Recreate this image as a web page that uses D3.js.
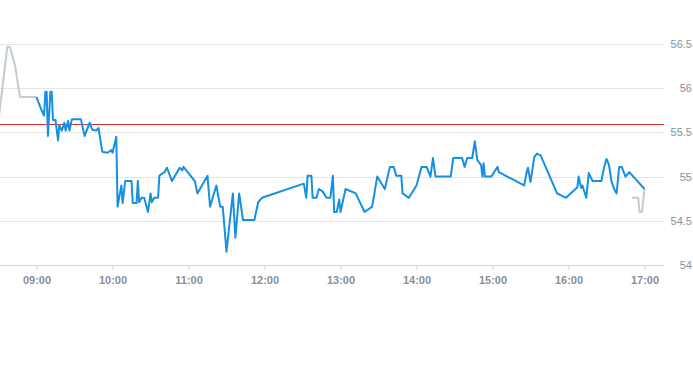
<!DOCTYPE html>
<html>
<head>
<meta charset="utf-8">
<script src="https://cdn.jsdelivr.net/npm/d3@7"></script>
<style>
  body { margin: 0; background: #fff; }
  svg { display: block; font-family: "Liberation Sans", Arial, sans-serif; }
</style>
</head>
<body>
<div id="chart"></div>
<script>
// pre-market (gray)
const preTimes = ["08:30", "08:37", "08:39", "08:43", "08:47", "09:00"];
const preValues = [55.64, 56.47, 56.47, 56.26, 55.90, 55.90];

// regular session (blue)
const sessionTimes = [
  "09:00", "09:04", "09:06", "09:07", "09:08", "09:09", "09:11", "09:12", "09:13", "09:15",
  "09:17", "09:18", "09:20", "09:22", "09:23", "09:25", "09:26", "09:28", "09:35", "09:38",
  "09:42", "09:44", "09:47", "09:49", "09:51", "09:52", "09:56", "09:59", "10:00", "10:03",
  "10:04", "10:07", "10:08", "10:10", "10:15", "10:16", "10:19", "10:20", "10:21", "10:23",
  "10:25", "10:28", "10:30", "10:31", "10:33", "10:36", "10:37", "10:41", "10:43", "10:47",
  "10:53", "10:55", "10:56", "11:05", "11:07", "11:15", "11:17", "11:22", "11:25", "11:27",
  "11:30", "11:35", "11:37", "11:40", "11:43", "11:52", "11:55", "11:58", "12:31", "12:33",
  "12:34", "12:37", "12:38", "12:41", "12:43", "12:46", "12:49", "12:52", "12:54", "12:55",
  "12:57", "12:59", "13:00", "13:04", "13:12", "13:19", "13:25", "13:29", "13:35", "13:39",
  "13:42", "13:44", "13:48", "13:49", "13:54", "14:00", "14:04", "14:08", "14:11", "14:13",
  "14:15", "14:27", "14:29", "14:36", "14:38", "14:40", "14:44", "14:46", "14:48", "14:51",
  "14:52", "14:53", "14:54", "14:59", "15:04", "15:05", "15:25", "15:27", "15:28", "15:30",
  "15:33", "15:35", "15:38", "15:51", "15:58", "16:07", "16:08", "16:10", "16:11", "16:14",
  "16:16", "16:19", "16:26", "16:28", "16:30", "16:32", "16:34", "16:36", "16:38", "16:40",
  "16:42", "16:45", "16:48", "17:00"
];
const sessionValues = [
  55.90, 55.75, 55.69, 55.96, 55.96, 55.46, 55.96, 55.96, 55.64, 55.64,
  55.41, 55.58, 55.52, 55.61, 55.52, 55.63, 55.52, 55.65, 55.65, 55.46,
  55.61, 55.53, 55.52, 55.55, 55.36, 55.28, 55.27, 55.30, 55.27, 55.45,
  54.66, 54.90, 54.70, 54.95, 54.95, 54.70, 54.70, 54.95, 54.71, 54.76,
  54.76, 54.60, 54.81, 54.71, 54.76, 54.76, 55.01, 55.05, 55.10, 54.95,
  55.10, 55.07, 55.11, 54.95, 54.81, 55.01, 54.66, 54.90, 54.66, 54.66,
  54.15, 54.81, 54.31, 54.81, 54.51, 54.51, 54.71, 54.76, 54.92, 54.76,
  55.01, 55.01, 54.76, 54.76, 54.86, 54.83, 54.76, 54.76, 55.01, 54.60,
  54.60, 54.74, 54.60, 54.86, 54.81, 54.60, 54.66, 55.00, 54.86, 55.11,
  55.11, 55.01, 55.01, 54.81, 54.76, 54.90, 55.11, 55.11, 55.00, 55.21,
  55.00, 55.00, 55.21, 55.21, 55.11, 55.21, 55.21, 55.40, 55.19, 55.13,
  55.00, 55.15, 55.00, 55.00, 55.11, 55.05, 54.90, 55.05, 55.10, 54.94,
  55.22, 55.26, 55.24, 54.81, 54.76, 54.88, 55.00, 54.87, 54.90, 54.76,
  55.04, 54.95, 54.95, 55.10, 55.20, 55.13, 54.94, 54.86, 54.81, 55.11,
  55.11, 55.00, 55.05, 54.86
];

// after-hours (gray)
const postTimes = ["16:50", "16:55", "16:56", "16:58", "17:00"];
const postValues = [54.76, 54.76, 54.60, 54.60, 54.86];

const referenceValue = 55.6;
const yTicks = [54, 54.5, 55, 55.5, 56, 56.5];
const xTickLabels = ["09:00", "10:00", "11:00", "12:00", "13:00", "14:00", "15:00", "16:00", "17:00"];

const parseTime = d3.timeParse("%H:%M");
const toPoints = (times, values) => times.map((t, i) => ({ t: parseTime(t), v: values[i] }));

const width = 693, height = 365;
const plotLeft = 0, plotRight = 664, plotTop = 44, plotBottom = 265;

const x = d3.scaleTime()
  .domain([parseTime("08:30"), parseTime("17:15")])
  .range([plotLeft - 1.5, plotRight - 0.5]);
const y = d3.scaleLinear()
  .domain([54, 56.5])
  .range([plotBottom, plotTop]);

const svg = d3.select("#chart").append("svg")
  .attr("width", width)
  .attr("height", height);

// grid lines
svg.append("g")
  .selectAll("line")
  .data(yTicks.slice(1))
  .join("line")
  .attr("x1", plotLeft)
  .attr("x2", plotRight)
  .attr("y1", d => Math.round(y(d)) + 0.5)
  .attr("y2", d => Math.round(y(d)) + 0.5)
  .attr("stroke", "#e6e6e6");

// y labels on the right
svg.append("g")
  .selectAll("text")
  .data(yTicks)
  .join("text")
  .attr("x", 692)
  .attr("y", d => y(d) + 4)
  .attr("text-anchor", "end")
  .style("font-size", "11px")
  .style("fill", "#8a8f98")
  .text(d => d3.format("")(d));

// x axis
const xAxis = svg.append("g")
  .attr("transform", `translate(0,${plotBottom + 0.5})`)
  .call(d3.axisBottom(x)
    .tickValues(xTickLabels.map(parseTime))
    .tickFormat(d3.timeFormat("%H:%M"))
    .tickSize(5)
    .tickPadding(6)
    .tickSizeOuter(0));
xAxis.select(".domain").attr("stroke", "#ccd6eb").attr("d", `M${plotLeft},0H${plotRight}`);
xAxis.selectAll(".tick line").attr("stroke", "#ccd6eb");
xAxis.selectAll(".tick text")
  .style("font-size", "11px")
  .style("font-weight", "bold")
  .style("font-family", "\"Liberation Sans\", Arial, sans-serif")
  .attr("fill", "#8a8f98");

// reference line
svg.append("line")
  .attr("x1", plotLeft)
  .attr("x2", plotRight)
  .attr("y1", Math.round(y(referenceValue)) + 0.5)
  .attr("y2", Math.round(y(referenceValue)) + 0.5)
  .attr("stroke", "#d9342b")
  .attr("stroke-width", 1);

const line = d3.line().x(d => x(d.t)).y(d => y(d.v));

svg.append("path")
  .datum(toPoints(preTimes, preValues))
  .attr("d", line)
  .attr("fill", "none")
  .attr("stroke", "#c3cbd4")
  .attr("stroke-width", 2)
  .attr("stroke-linejoin", "round");

svg.append("path")
  .datum(toPoints(postTimes, postValues))
  .attr("d", line)
  .attr("fill", "none")
  .attr("stroke", "#c3cbd4")
  .attr("stroke-width", 2)
  .attr("stroke-linejoin", "round");

svg.append("path")
  .datum(toPoints(sessionTimes, sessionValues))
  .attr("d", line)
  .attr("fill", "none")
  .attr("stroke", "#1690e0")
  .attr("stroke-width", 2)
  .attr("stroke-linejoin", "round");
</script>
</body>
</html>
